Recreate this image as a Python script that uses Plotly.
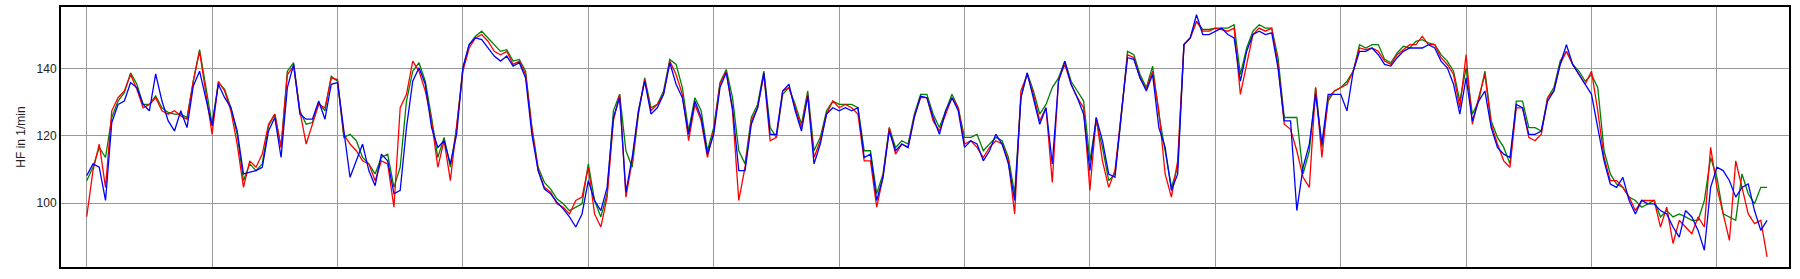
import plotly.graph_objects as go

red = [
    96.0, 109.7, 117.6, 104.7, 127.5, 131.4, 133.4, 138.3, 133.9, 128.4,
    129.4, 131.4, 127.5, 126.5, 127.5, 126.0, 125.0, 136.3, 145.2, 133.4,
    120.5, 136.3, 133.4, 127.5, 117.6, 104.7, 112.6, 110.7, 114.6, 123.5,
    126.5, 116.6, 138.3, 140.8, 127.5, 117.6, 123.5, 129.4, 128.4, 137.3,
    136.8, 120.5, 117.6, 115.6, 112.6, 111.7, 106.7, 112.6, 111.7, 98.8,
    128.4, 132.4, 142.3, 139.3, 133.4, 124.5, 110.7, 118.6, 106.7, 123.5,
    139.3, 146.2, 149.2, 150.2, 148.2, 145.2, 144.2, 145.2, 141.3, 142.3,
    138.3, 122.5, 109.7, 104.7, 103.3, 99.8, 98.8, 96.8, 100.8, 101.8,
    110.7, 96.8, 92.9, 101.8, 124.5, 132.4, 101.8, 112.6, 127.5, 136.8,
    127.5, 129.4, 132.4, 142.3, 138.3, 132.4, 118.6, 129.4, 124.5, 113.6,
    121.5, 135.4, 139.3, 127.5, 100.8, 110.7, 124.5, 128.4, 138.3, 118.6,
    119.6, 133.4, 134.4, 128.4, 122.5, 132.4, 113.6, 118.6, 126.5, 130.4,
    128.4, 129.4, 128.4, 126.5, 112.6, 112.6, 98.8, 107.7, 122.5, 114.6,
    117.6, 116.6, 126.0, 131.4, 131.4, 124.5, 121.5, 126.5, 131.4, 128.4,
    117.6, 118.6, 116.6, 113.6, 116.6, 118.6, 117.6, 112.6, 96.8, 133.4,
    138.3, 132.4, 124.5, 128.4, 106.2, 136.8, 141.3, 135.4, 131.4, 128.4,
    103.8, 125.5, 112.6, 104.7, 109.7, 126.5, 144.2, 143.3, 137.3, 133.9,
    139.3, 127.5, 108.7, 101.8, 112.6, 147.2, 149.2, 154.1, 151.2, 151.2,
    152.1, 151.7, 151.2, 152.1, 132.4, 141.3, 150.2, 152.1, 151.2, 152.1,
    141.3, 123.5, 122.0, 115.6, 107.7, 104.7, 134.4, 113.6, 131.4, 133.4,
    134.4, 135.4, 139.3, 146.2, 145.7, 146.2, 145.2, 142.3, 141.3, 144.2,
    145.7, 147.2, 147.2, 149.7, 147.2, 147.2, 143.3, 141.3, 138.3, 128.4,
    144.2, 123.5, 131.4, 138.3, 123.5, 117.6, 112.6, 110.7, 128.4, 128.4,
    119.6, 118.6, 120.5, 131.4, 133.4, 141.3, 145.2, 141.3, 138.3, 135.4,
    139.3, 127.5, 113.6, 106.7, 106.7, 104.7, 101.8, 97.8, 100.8, 100.8,
    100.8, 92.9, 98.8, 88.0, 94.9, 92.9, 90.9, 95.9, 92.9, 116.6,
    104.7, 96.8, 88.9, 112.6, 104.7, 96.8, 93.9, 94.9, 84.0,
]

green = [
    106.7, 110.7, 116.6, 113.6, 125.5, 130.4, 132.9, 138.8, 135.4, 129.4,
    129.4, 131.9, 128.4, 127.0, 126.5, 126.5, 125.5, 136.3, 145.7, 134.4,
    123.5, 135.9, 133.9, 128.4, 120.5, 106.7, 111.7, 109.7, 111.7, 123.0,
    126.5, 116.6, 139.3, 141.8, 127.5, 123.5, 124.0, 129.9, 127.5, 137.8,
    136.3, 119.6, 120.5, 118.6, 113.6, 111.7, 108.7, 113.6, 114.6, 104.7,
    110.7, 130.4, 139.3, 141.8, 136.3, 125.5, 113.6, 119.6, 110.7, 122.5,
    140.3, 147.2, 149.7, 151.2, 149.2, 147.2, 145.2, 145.7, 142.3, 142.8,
    139.3, 122.5, 110.7, 106.2, 104.2, 101.3, 99.8, 97.8, 98.8, 99.8,
    111.7, 100.8, 95.9, 102.8, 127.5, 132.4, 115.6, 110.7, 126.5, 137.3,
    128.4, 129.4, 133.4, 142.8, 141.3, 134.4, 121.5, 131.4, 127.5, 115.6,
    122.5, 135.9, 139.8, 131.4, 115.6, 111.7, 125.5, 129.4, 139.3, 122.5,
    119.6, 132.4, 134.4, 129.4, 123.5, 133.4, 115.6, 119.6, 127.5, 130.4,
    129.4, 129.4, 129.4, 128.4, 115.6, 115.6, 102.8, 108.7, 122.5, 116.6,
    118.6, 117.6, 126.5, 132.4, 132.4, 126.5, 122.5, 127.5, 132.4, 128.4,
    119.6, 119.6, 120.5, 115.6, 117.6, 119.6, 118.6, 113.6, 102.8, 131.4,
    138.8, 133.4, 126.5, 129.4, 134.4, 137.3, 142.3, 136.3, 133.4, 130.4,
    112.6, 124.5, 116.6, 106.7, 108.7, 125.5, 145.2, 144.2, 138.3, 134.4,
    140.8, 126.5, 115.6, 104.7, 110.7, 147.2, 149.2, 154.1, 151.7, 151.7,
    152.1, 152.1, 152.1, 153.1, 138.3, 146.2, 151.2, 153.1, 152.1, 152.1,
    143.3, 125.5, 125.5, 125.5, 108.7, 115.6, 134.4, 116.6, 130.4, 133.4,
    134.4, 136.3, 139.3, 147.2, 146.2, 147.2, 147.2, 142.8, 141.8, 144.7,
    146.7, 146.2, 148.2, 148.7, 147.7, 147.2, 144.2, 142.3, 139.3, 130.4,
    140.3, 126.5, 130.4, 139.3, 124.5, 119.6, 116.6, 111.7, 130.4, 130.4,
    122.5, 122.5, 121.5, 131.4, 134.4, 142.3, 145.2, 141.3, 139.3, 136.3,
    138.3, 134.4, 115.6, 108.7, 105.7, 104.7, 101.8, 100.8, 98.8, 99.8,
    100.8, 95.9, 97.8, 95.9, 96.8, 95.9, 94.9, 94.9, 100.8, 113.6,
    107.7, 96.8, 95.9, 94.9, 108.7, 102.8, 99.8, 104.7, 104.7,
]

blue = [
    108.2, 111.7, 110.7, 100.8, 124.0, 129.4, 130.4, 135.9, 134.4, 129.4,
    127.5, 138.5, 130.4, 124.5, 121.5, 127.5, 122.5, 134.9, 139.3, 131.4,
    123.0, 135.4, 131.4, 128.4, 121.5, 108.7, 109.2, 109.7, 110.7, 121.5,
    125.5, 113.6, 134.4, 141.3, 126.5, 125.0, 125.0, 130.4, 125.0, 135.4,
    135.9, 122.5, 107.7, 112.6, 117.6, 109.7, 105.2, 114.6, 112.6, 102.8,
    103.8, 122.5, 136.3, 140.3, 135.4, 122.5, 116.6, 118.6, 111.7, 120.5,
    140.3, 147.2, 149.2, 148.7, 146.2, 143.8, 142.3, 143.8, 140.8, 141.8,
    137.3, 120.5, 109.7, 104.2, 102.8, 100.3, 98.3, 95.9, 92.9, 96.8,
    106.7, 100.8, 97.8, 104.7, 125.5, 131.4, 103.3, 113.6, 127.5, 136.3,
    126.5, 128.4, 132.4, 141.8, 135.4, 131.4, 120.5, 130.4, 125.5, 114.6,
    120.5, 134.4, 138.8, 128.4, 109.7, 109.7, 123.5, 128.4, 138.8, 120.5,
    120.5, 133.4, 135.4, 127.5, 121.5, 131.9, 111.7, 117.6, 126.5, 128.4,
    127.5, 128.4, 127.5, 128.4, 113.6, 114.6, 100.8, 107.7, 121.5, 115.6,
    117.6, 116.6, 125.5, 131.9, 131.4, 125.5, 120.5, 127.5, 131.4, 127.5,
    116.6, 118.6, 117.6, 112.6, 115.6, 120.5, 117.6, 111.7, 100.8, 131.4,
    138.8, 131.4, 123.5, 128.4, 111.7, 136.3, 142.3, 135.4, 131.4, 126.5,
    109.7, 125.5, 118.6, 108.7, 107.7, 126.5, 143.3, 142.8, 137.3, 133.4,
    138.3, 122.5, 116.6, 103.8, 108.7, 147.2, 149.2, 156.1, 150.2, 150.2,
    151.2, 152.1, 150.2, 149.2, 136.3, 145.2, 150.2, 151.2, 150.2, 150.7,
    140.3, 124.5, 124.5, 97.8, 110.7, 117.6, 132.4, 117.6, 132.4, 132.4,
    132.4, 127.5, 139.3, 145.2, 145.2, 146.2, 144.2, 141.3, 140.8, 143.3,
    145.2, 146.2, 146.2, 146.2, 147.2, 146.2, 142.3, 140.3, 135.4, 126.5,
    137.3, 124.5, 130.4, 133.4, 122.5, 116.6, 114.6, 113.6, 129.4, 128.4,
    120.5, 120.5, 121.5, 130.4, 133.4, 141.3, 147.2, 141.3, 138.3, 135.4,
    132.4, 122.5, 112.6, 105.7, 104.7, 107.7, 100.8, 96.8, 100.8, 99.8,
    99.8, 97.8, 96.8, 92.9, 89.9, 97.8, 95.9, 91.9, 86.0, 104.7,
    110.7, 109.7, 106.7, 101.8, 104.7, 105.7, 97.8, 91.9, 94.9,
]

step_min = 0.5
minutes = [i * step_min for i in range(len(blue))]

y_ticks = [100, 120, 140]
y_title = "HF in 1/min"

fig = go.Figure()
for name, vals, col in [("green", green, "#008000"), ("red", red, "#ff0000"), ("blue", blue, "#0000ff")]:
    fig.add_trace(go.Scatter(x=minutes, y=vals, mode="lines", name=name,
                             line=dict(color=col, width=1.3), showlegend=False))

fig.update_layout(
    width=1800, height=279,
    margin=dict(l=61, r=11, t=5, b=12),
    paper_bgcolor="white", plot_bgcolor="white",
    font=dict(family="Liberation Sans, Arial, sans-serif", size=12, color="#222"),
)
fig.update_xaxes(range=[-2.05, 135.75], dtick=10, tick0=0, showticklabels=False,
                 showgrid=True, gridcolor="#9a9a9a", gridwidth=1, zeroline=False,
                 showline=True, linecolor="black", linewidth=2, mirror=True, ticks="")
fig.update_yaxes(range=[81.0, 158.4], tickvals=y_ticks, showgrid=True,
                 gridcolor="#9a9a9a", gridwidth=1, zeroline=False,
                 showline=True, linecolor="black", linewidth=2, mirror=True, ticks="",
                 title=dict(text=y_title, font=dict(size=12), standoff=8),
                 tickfont=dict(size=12))

fig.write_html("out.html")
